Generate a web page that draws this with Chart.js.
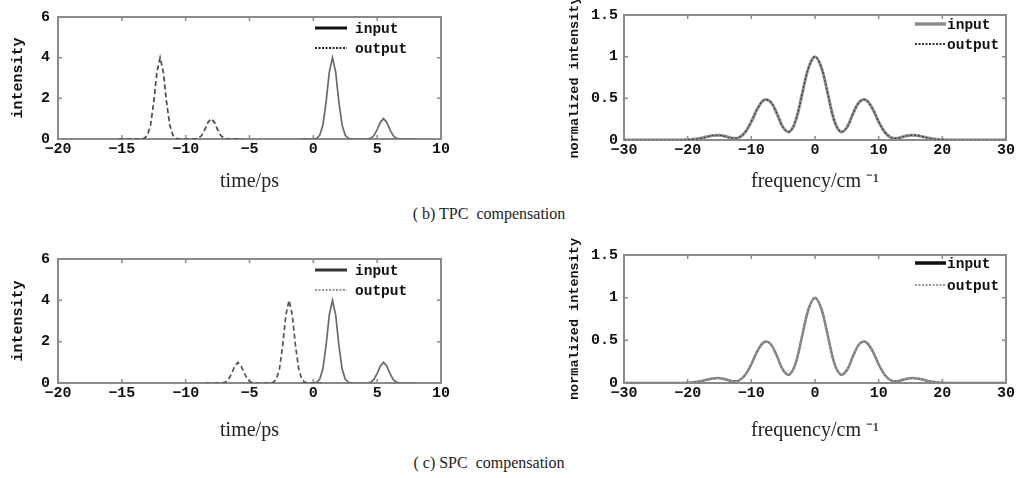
<!DOCTYPE html>
<html>
<head>
<meta charset="utf-8">
<script src="https://cdn.jsdelivr.net/npm/chart.js@4.4.1/dist/chart.umd.min.js"></script>
<style>
  body { margin: 0; background: #fff; width: 1016px; height: 478px; position: relative; overflow: hidden; }
  canvas { position: absolute; }
  .caption { position: absolute; transform: translate(-50%, -50%); font-family: "Liberation Serif", serif; font-size: 16px; color: #222; white-space: pre; }
</style>
</head>
<body>
<canvas id="timeTPC" width="460" height="200" style="left:0;top:0"></canvas>
<canvas id="specTPC" width="456" height="201" style="left:560px;top:0"></canvas>
<canvas id="timeSPC" width="460" height="202" style="left:0;top:242px"></canvas>
<canvas id="specSPC" width="456" height="210" style="left:560px;top:234px"></canvas>
<div class="caption" style="left:489px;top:214px">( b) TPC  compensation</div>
<div class="caption" style="left:489px;top:463px">( c) SPC  compensation</div>
<script>
// tick positions
const timeTicks = [-20, -15, -10, -5, 0, 5, 10];
const intensityTicks = [0, 2, 4, 6];
const freqTicks = [-30, -20, -10, 0, 10, 20, 30];
const normTicks = [0, 0.5, 1, 1.5];

const seriesLabels = ['input', 'output'];

// input pulse pair, time in ps
const tInput = [-1, -0.75, -0.5, -0.25, 0, 0.25, 0.5, 0.75, 1, 1.25, 1.5, 1.75, 2, 2.25, 2.5, 2.75,
  3, 3.25, 3.5, 3.75, 4, 4.25, 4.5, 4.75, 5, 5.25, 5.5, 5.75, 6, 6.25, 6.5, 6.75, 7, 7.25, 7.5, 7.75, 8];
const inputPulse = [0, 0, 0, 0, 0, 0.03, 0.18, 0.69, 1.83, 3.29, 4, 3.29, 1.83, 0.69, 0.18, 0.03,
  0, 0, 0, 0, 0, 0, 0.04, 0.17, 0.46, 0.82, 1, 0.82, 0.46, 0.17, 0.04, 0, 0, 0, 0, 0, 0];

// output after temporal phase conjugation (shifted copy)
const tOutputTPC = [-15.25, -15, -14.75, -14.5, -14.25, -14, -13.75, -13.5, -13.25, -13, -12.75, -12.5,
  -12.25, -12, -11.75, -11.5, -11.25, -11, -10.75, -10.5, -10.25, -10, -9.75, -9.5, -9.25, -9, -8.75,
  -8.5, -8.25, -8, -7.75, -7.5, -7.25, -7, -6.75, -6.5, -6.25, -6, -5.75, -5.5];
const outputTPC = [0, 0, 0, 0, 0, 0, 0, 0, 0.03, 0.18, 0.69, 1.83, 3.29, 4, 3.29, 1.83, 0.69, 0.18, 0.03,
  0, 0, 0, 0, 0, 0, 0.04, 0.17, 0.46, 0.82, 1, 0.82, 0.46, 0.17, 0.04, 0, 0, 0, 0, 0, 0];

// output after spectral phase conjugation (time reversed)
const tOutputSPC = [-8.4, -8.15, -7.9, -7.65, -7.4, -7.15, -6.9, -6.65, -6.4, -6.15, -5.9, -5.65, -5.4,
  -5.15, -4.9, -4.65, -4.4, -4.15, -3.9, -3.65, -3.4, -3.15, -2.9, -2.65, -2.4, -2.15, -1.9, -1.65,
  -1.4, -1.15, -0.9, -0.65, -0.4, -0.15, 0.1, 0.35, 0.6];
const outputSPC = [0, 0, 0, 0, 0, 0, 0.04, 0.17, 0.46, 0.82, 1, 0.82, 0.46, 0.17, 0.04, 0, 0, 0, 0, 0, 0,
  0.03, 0.18, 0.69, 1.83, 3.29, 4, 3.29, 1.83, 0.69, 0.18, 0.03, 0, 0, 0, 0, 0];

// normalized spectrum, frequency in cm^-1
const freq = [-30, -29, -28, -27, -26, -25, -24, -23, -22, -21, -20, -19, -18, -17, -16, -15, -14, -13,
  -12, -11, -10, -9, -8, -7, -6, -5, -4, -3, -2, -1, 0, 1, 2, 3, 4, 5, 6, 7, 8, 9, 10, 11, 12, 13, 14,
  15, 16, 17, 18, 19, 20, 21, 22, 23, 24, 25, 26, 27, 28, 29, 30];
const spectrumInput = [0, 0, 0, 0, 0, 0, 0, 0, 0, 0, 0.002, 0.008, 0.02, 0.038, 0.054, 0.057, 0.042, 0.022,
  0.027, 0.09, 0.22, 0.38, 0.48, 0.46, 0.32, 0.15, 0.1, 0.24, 0.56, 0.87, 1, 0.87, 0.56, 0.24, 0.1, 0.15,
  0.32, 0.46, 0.48, 0.38, 0.22, 0.09, 0.027, 0.022, 0.042, 0.057, 0.054, 0.038, 0.02, 0.008, 0.002,
  0, 0, 0, 0, 0, 0, 0, 0, 0, 0];
// the spectrum is left unchanged by either scheme
const spectrumOutput = spectrumInput;

const monoFont = { family: 'Liberation Mono', size: 15, weight: 'bold' };

function points(xs, ys) {
  return xs.map((x, i) => ({ x: x, y: ys[i] }));
}

function fixedTicks(list) {
  return function (scale) {
    scale.ticks = list.map(v => ({ value: v }));
  };
}

const tickText = v => String(v).replace('-', '\u2212');

// box around the plot with small inward tick marks on all sides
const framePlugin = {
  id: 'frame',
  beforeDatasetsDraw(chart) {
    const ctx = chart.ctx;
    const a = chart.chartArea;
    const x = chart.scales.x, y = chart.scales.y;
    ctx.save();
    ctx.strokeStyle = '#8a8a8a';
    ctx.lineWidth = 2;
    ctx.strokeRect(a.left, a.top, a.right - a.left, a.bottom - a.top);
    ctx.lineWidth = 1.5;
    ctx.beginPath();
    x.ticks.forEach(t => {
      const p = x.getPixelForValue(t.value);
      ctx.moveTo(p, a.bottom); ctx.lineTo(p, a.bottom - 4);
      ctx.moveTo(p, a.top); ctx.lineTo(p, a.top + 4);
    });
    y.ticks.forEach(t => {
      const p = y.getPixelForValue(t.value);
      ctx.moveTo(a.left, p); ctx.lineTo(a.left + 4, p);
      ctx.moveTo(a.right, p); ctx.lineTo(a.right - 4, p);
    });
    ctx.stroke();
    ctx.restore();
  }
};

// legend drawn inside the top right corner of the plot
const keyPlugin = {
  id: 'key',
  afterDraw(chart, args, opts) {
    const ctx = chart.ctx;
    const a = chart.chartArea;
    ctx.save();
    chart.data.datasets.forEach((ds, i) => {
      const st = opts.styles[i];
      const yy = a.top + opts.rows[i];
      ctx.strokeStyle = st.color;
      ctx.lineWidth = st.width;
      ctx.setLineDash(st.dash || []);
      ctx.beginPath();
      ctx.moveTo(a.right - opts.lineStart, yy);
      ctx.lineTo(a.right - opts.lineEnd, yy);
      ctx.stroke();
      ctx.setLineDash([]);
      ctx.fillStyle = '#111';
      ctx.font = 'bold 14.5px "Liberation Mono"';
      ctx.textBaseline = 'middle';
      ctx.fillText(ds.label, a.right - opts.textStart, yy + 1);
    });
    ctx.restore();
  }
};

function panel(id, cfg) {
  return new Chart(document.getElementById(id), {
    type: 'line',
    data: { datasets: cfg.datasets },
    options: {
      responsive: false,
      animation: false,
      layout: { padding: cfg.padding },
      elements: { point: { radius: 0 }, line: { tension: cfg.tension } },
      plugins: {
        legend: { display: false },
        tooltip: { enabled: false },
        key: cfg.key
      },
      scales: {
        x: {
          type: 'linear',
          min: cfg.xTicks[0],
          max: cfg.xTicks[cfg.xTicks.length - 1],
          afterBuildTicks: fixedTicks(cfg.xTicks),
          afterFit: s => { s.height = 61; },
          grid: { display: false, drawTicks: false },
          border: { display: false },
          ticks: {
            padding: 1, color: '#111', font: monoFont, maxRotation: 0, autoSkip: false,
            callback: tickText
          },
          title: {
            display: true, text: cfg.xTitle, color: '#222',
            font: { family: 'Liberation Serif', size: 20 },
            padding: { top: 0, bottom: cfg.xTitlePad }
          }
        },
        y: {
          min: cfg.yTicks[0],
          max: cfg.yTicks[cfg.yTicks.length - 1],
          afterBuildTicks: fixedTicks(cfg.yTicks),
          afterFit: s => { s.width = cfg.yWidth; },
          grid: { display: false, drawTicks: false },
          border: { display: false },
          ticks: { padding: cfg.yPad, color: '#111', font: monoFont, callback: tickText },
          title: {
            display: true, text: cfg.yTitle, color: '#111',
            font: { family: 'Liberation Mono', size: cfg.yTitleSize, weight: 'bold' },
            padding: { top: cfg.yTitleOffset, bottom: 0 }
          }
        }
      }
    },
    plugins: [framePlugin, keyPlugin]
  });
}

const timeKey = (inColor, outColor) => ({
  rows: [11, 31], lineStart: 126, lineEnd: 94, textStart: 86,
  styles: [{ color: inColor, width: 3 }, { color: outColor, width: 2, dash: [2, 1.5] }]
});
const specKey = (inColor, outColor, rows) => ({
  rows: rows, lineStart: 91, lineEnd: 60, textStart: 59,
  styles: [{ color: inColor, width: 3.5 }, { color: outColor, width: 2, dash: [2, 1.5] }]
});

panel('timeTPC', {
  padding: { top: 13, right: 19, left: 0, bottom: 0 },
  xTicks: timeTicks, yTicks: intensityTicks, tension: 0,
  xTitle: 'time/ps', xTitlePad: 6,
  yTitle: 'intensity', yTitleSize: 15, yTitleOffset: 9, yWidth: 58, yPad: 8,
  key: timeKey('#111', '#222'),
  datasets: [
    { label: seriesLabels[0], data: points(tInput, inputPulse), borderColor: '#6a6a6a', borderWidth: 1.7, order: 1 },
    { label: seriesLabels[1], data: points(tOutputTPC, outputTPC), borderColor: '#4a4a4a', borderWidth: 1.7, borderDash: [5, 3], order: 0 }
  ]
});

panel('specTPC', {
  padding: { top: 14, right: 9, left: 0, bottom: 0 },
  xTicks: freqTicks, yTicks: normTicks, tension: 0.4,
  xTitle: 'frequency/cm \u207B\u00B9', xTitlePad: 7,
  yTitle: 'normalized intensity', yTitleSize: 13.5, yTitleOffset: 6, yWidth: 64, yPad: 6,
  key: specKey('#8a8a8a', '#333', [9, 29]),
  datasets: [
    { label: seriesLabels[0], data: points(freq, spectrumInput), borderColor: '#909090', borderWidth: 3, order: 1 },
    { label: seriesLabels[1], data: points(freq, spectrumOutput), borderColor: '#3a3a3a', borderWidth: 1.2, borderDash: [2, 2], order: 0 }
  ]
});

panel('timeSPC', {
  padding: { top: 13, right: 19, left: 0, bottom: 0 },
  xTicks: timeTicks, yTicks: intensityTicks, tension: 0,
  xTitle: 'time/ps', xTitlePad: 1,
  yTitle: 'intensity', yTitleSize: 15, yTitleOffset: 9, yWidth: 58, yPad: 8,
  key: timeKey('#333', '#999'),
  datasets: [
    { label: seriesLabels[0], data: points(tInput, inputPulse), borderColor: '#6a6a6a', borderWidth: 1.7, order: 1 },
    { label: seriesLabels[1], data: points(tOutputSPC, outputSPC), borderColor: '#555', borderWidth: 1.7, borderDash: [5, 3], order: 0 }
  ]
});

panel('specSPC', {
  padding: { top: 21, right: 9, left: 0, bottom: 0 },
  xTicks: freqTicks, yTicks: normTicks, tension: 0.4,
  xTitle: 'frequency/cm \u207B\u00B9', xTitlePad: 1,
  yTitle: 'normalized intensity', yTitleSize: 13.5, yTitleOffset: 6, yWidth: 64, yPad: 6,
  key: specKey('#111', '#999', [8, 30]),
  datasets: [
    { label: seriesLabels[0], data: points(freq, spectrumInput), borderColor: '#7a7a7a', borderWidth: 2.5, order: 1 },
    { label: seriesLabels[1], data: points(freq, spectrumOutput), borderColor: '#a0a0a0', borderWidth: 1.2, borderDash: [2, 2], order: 0 }
  ]
});
</script>
</body>
</html>
